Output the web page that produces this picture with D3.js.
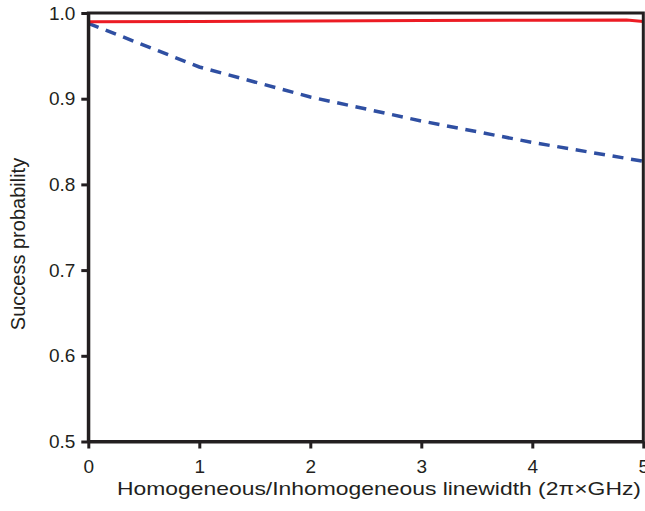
<!doctype html>
<html>
<head>
<meta charset="utf-8">
<script src="https://d3js.org/d3.v7.min.js"></script>
<style>
  body { margin: 0; background: #fff; }
  text { font-family: "Liberation Sans", Arial, sans-serif; fill: #231f20; }
</style>
</head>
<body>
<script>
// tick labels
var xTicks = [0, 1, 2, 3, 4, 5];
var yTicks = [0.5, 0.6, 0.7, 0.8, 0.9, 1.0];

// red solid series
var redX = [0, 1, 2, 3, 4, 4.85, 5];
var redY = [0.9897, 0.9902, 0.9907, 0.9912, 0.9915, 0.9917, 0.9900];

// blue dashed series
var blueX = [0, 1, 2, 3, 4, 5];
var blueY = [0.988, 0.937, 0.902, 0.874, 0.849, 0.827];

var W = 645, H = 511;
var margin = {left: 88.3, right: 1.7, top: 13, bottom: 69.5};
var iw = W - margin.left - margin.right, ih = H - margin.top - margin.bottom;
var ink = "#231f20";

var svg = d3.select("body").append("svg").attr("width", W).attr("height", H);
var g = svg.append("g").attr("transform", "translate(" + margin.left + "," + margin.top + ")");

var x = d3.scaleLinear().domain([0, 5]).range([0, iw]);
var y = d3.scaleLinear().domain([0.5, 1.0]).range([ih, 0]);

var line = d3.line().x(function(d) { return x(d[0]); }).y(function(d) { return y(d[1]); });

g.append("path")
  .datum(blueX.map(function(v, i) { return [v, blueY[i]]; }))
  .attr("d", line).attr("fill", "none")
  .attr("stroke", "#2f4fa2").attr("stroke-width", 3.5)
  .attr("stroke-dasharray", "11,7.7");

g.append("path")
  .datum(redX.map(function(v, i) { return [v, redY[i]]; }))
  .attr("d", line).attr("fill", "none")
  .attr("stroke", "#ec1c24").attr("stroke-width", 3);

// frame
g.append("rect").attr("width", iw).attr("height", ih)
  .attr("fill", "none").attr("stroke", ink).attr("stroke-width", 3);

var xAxis = g.append("g").attr("transform", "translate(0," + ih + ")")
  .call(d3.axisBottom(x).tickValues(xTicks).tickFormat(d3.format("d")).tickSize(7).tickPadding(11).tickSizeOuter(0));
var yAxis = g.append("g")
  .call(d3.axisLeft(y).tickValues(yTicks).tickFormat(d3.format(".1f")).tickSize(7).tickPadding(6).tickSizeOuter(0));

[xAxis, yAxis].forEach(function(a) {
  a.select(".domain").attr("stroke", ink).attr("stroke-width", 3);
  a.selectAll(".tick line").attr("stroke", ink).attr("stroke-width", 3);
  a.selectAll(".tick text").attr("font-size", 19).attr("font-family", "Liberation Sans, Arial, sans-serif").attr("fill", ink);
});

svg.append("text")
  .attr("x", 379).attr("y", 495)
  .attr("text-anchor", "middle").attr("font-size", 19)
  .attr("textLength", 524).attr("lengthAdjust", "spacingAndGlyphs")
  .text("Homogeneous/Inhomogeneous linewidth (2π×GHz)");

svg.append("text")
  .attr("transform", "translate(25,244) rotate(-90)")
  .attr("text-anchor", "middle").attr("font-size", 20)
  .text("Success probability");
</script>
</body>
</html>
